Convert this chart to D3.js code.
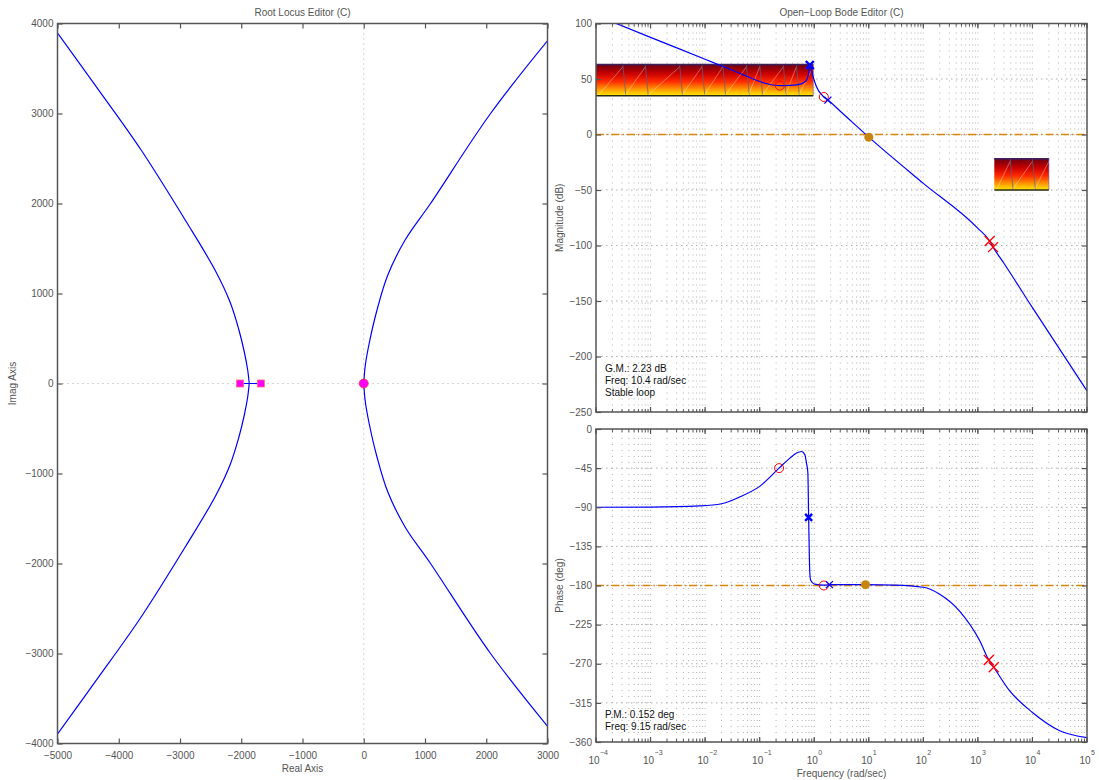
<!DOCTYPE html>
<html><head><meta charset="utf-8">
<script src="https://cdn.jsdelivr.net/npm/d3@7"></script>
<style>
body{margin:0;background:#fff;}
svg{display:block;font-family:"Liberation Sans",Arial,Helvetica,sans-serif;}
</style></head><body>
<svg id="c" width="1099" height="780"></svg>
<script>
// ---------------- DATA ----------------
const rlXTicks = [-5000,-4000,-3000,-2000,-1000,0,1000,2000,3000];
const rlYTicks = [-4000,-3000,-2000,-1000,0,1000,2000,3000,4000];
// upper halves of the two locus branches (lower half is the mirror image)
const rlLeftRe  = [-1870,-1895,-1950,-2040,-2180,-2420,-2900,-3640,-4380,-5100];
const rlLeftIm  = [0,150,350,600,900,1250,1800,2600,3310,3990];
const rlRightRe = [0,25,90,210,390,680,1090,2070,3050,3150];
const rlRightIm = [0,200,450,800,1200,1600,2000,3000,3850,3930];
const rlPoleRe = [-2020,-1680];
const rlOriginRe = [0];

const magTicks = [100,50,0,-50,-100,-150,-200,-250];
const phaseTicks = [0,-45,-90,-135,-180,-225,-270,-315,-360];
const freqExp = [-4,-3,-2,-1,0,1,2,3,4,5];

const magFreq = [1e-4,1e-3,1e-2,0.03,0.06,0.1,0.15,0.234,0.35,0.5,0.627,0.72,0.776,0.81,0.83,0.87,0.955,1.1,1.5,1.78,3,10,100,1000,1645,1900,3000,1e4,1e5];
const magDb   = [107.4,87.5,67.8,58.3,52.2,47.7,45.3,44.0,44.2,45,46.5,49,53,59,62.6,60,52,43,33.8,31,21,-2.4,-44,-84.5,-96,-101.5,-116,-156,-231];

const phFreq = [1e-4,1e-3,8e-3,0.02,0.0436,0.1,0.227,0.357,0.474,0.585,0.673,0.72,0.764,0.79,0.83,0.86,1.02,1.5,2,8.7,30,100,200,470,1070,1585,1950,3800,1e4,3.16e4,1e5];
const phDeg  = [-90,-89.8,-88.4,-86,-78,-66,-45,-33.5,-27.7,-25.9,-29.5,-39,-50,-101.6,-165,-174,-178.5,-179.5,-179,-179,-179.5,-182,-190,-210,-243,-265.6,-274,-301,-326,-347,-355];

// markers
const magCircF = [0.234,1.5],      magCircDb = [44,33.8];
const magXF    = [0.83,1.78],      magXDb    = [62.6,31];
const magRedXF = [1645,1900],      magRedXDb = [-96,-101.5];
const magDotF  = [10],             magDotDb  = [-2.4];
const phCircF  = [0.227,1.5],      phCircDeg = [-45,-180];
const phXF     = [0.79,1.9],       phXDeg    = [-101.6,-179];
const phRedXF  = [1585,1950],      phRedXDeg = [-265.6,-274];
const phDotF   = [8.7],            phDotDeg  = [-179];

// design constraint patches
const consF0 = [1e-4,2000], consF1 = [0.96,20000];
const consTop = [63.5,-21.5], consBot = [35,-50];
const consTeeth = [[1e-4,3.1e-4,8e-4,3.4e-3,8.7e-3,0.021,0.057,0.1,0.27,0.47,0.96],[2000,3900,10000,20000]];

const gmText = ["G.M.: 2.23 dB","Freq: 10.4 rad/sec","Stable loop"];
const pmText = ["P.M.: 0.152 deg","Freq: 9.15 rad/sec"];

// ---------------- DRAW ----------------
const svg = d3.select("#c");
const AX = "#555", LBL = "#555";
const defs = svg.append("defs");

function clip(id,x0,y0,x1,y1){
  defs.append("clipPath").attr("id",id).append("rect").attr("x",x0).attr("y",y0).attr("width",x1-x0).attr("height",y1-y0);
}
function xMark(g,x,y,s,col,w){
  g.append("path").attr("d",`M${x-s},${y-s}L${x+s},${y+s}M${x-s},${y+s}L${x+s},${y-s}`).attr("stroke",col).attr("stroke-width",w).attr("fill","none");
}

// ===== Root locus =====
const rl = {x0:57.5,x1:547.5,y0:23.5,y1:743.5};
const rx = d3.scaleLinear().domain([-5000,3000]).range([rl.x0,rl.x1]);
const ry = d3.scaleLinear().domain([-4000,4000]).range([rl.y1,rl.y0]);
clip("clipRL",rl.x0,rl.y0,rl.x1,rl.y1);
const gRL = svg.append("g");
const gz = gRL.append("g").attr("clip-path","url(#clipRL)");
gz.append("line").attr("x1",rx(0)).attr("x2",rx(0)).attr("y1",rl.y0).attr("y2",rl.y1).attr("stroke","#aaa").attr("stroke-dasharray","1,4");
gz.append("line").attr("x1",rl.x0).attr("x2",rl.x1).attr("y1",ry(0)).attr("y2",ry(0)).attr("stroke","#aaa").attr("stroke-dasharray","1,4");
const rlLine = d3.line().x(d=>rx(d[0])).y(d=>ry(d[1])).curve(d3.curveCatmullRom);
[[rlLeftRe,rlLeftIm],[rlRightRe,rlRightIm]].forEach(([re,im])=>{
  const up = re.map((r,i)=>[r,im[i]]);
  const dn = re.map((r,i)=>[r,-im[i]]);
  gz.append("path").attr("d",rlLine(up)).attr("fill","none").attr("stroke","#0000ff").attr("stroke-width",1.2);
  gz.append("path").attr("d",rlLine(dn)).attr("fill","none").attr("stroke","#0000ff").attr("stroke-width",1.2);
});
gz.append("line").attr("x1",rx(rlPoleRe[0])).attr("x2",rx(rlPoleRe[1])).attr("y1",ry(0)).attr("y2",ry(0)).attr("stroke","#0000ff").attr("stroke-width",1.2);
rlPoleRe.forEach(p=>{
  gz.append("rect").attr("x",rx(p)-3.5).attr("y",ry(0)-3.5).attr("width",7).attr("height",7).attr("fill","#ff00ff").attr("stroke","#ff7070").attr("stroke-width",0.8);
});
rlOriginRe.forEach(p=>{
  gz.append("circle").attr("cx",rx(p)).attr("cy",ry(0)).attr("r",4.5).attr("fill","#ff00ff").attr("stroke","#ff3030").attr("stroke-width",0.8);
});
function styleAxis(g){
  g.selectAll("path.domain").remove();
  g.selectAll("line").attr("stroke",AX).attr("stroke-width",1.2);
  g.selectAll("text").attr("fill",LBL).style("font-size","10px").style("font-family","'Liberation Sans',Arial,sans-serif");
}
const fmt = d3.format("d");
styleAxis(gRL.append("g").attr("transform",`translate(0,${rl.y1})`).call(d3.axisBottom(rx).tickValues(rlXTicks).tickFormat(fmt).tickSize(-5).tickPadding(8)));
styleAxis(gRL.append("g").attr("transform",`translate(0,${rl.y0})`).call(d3.axisTop(rx).tickValues(rlXTicks).tickFormat("").tickSize(-5)));
styleAxis(gRL.append("g").attr("transform",`translate(${rl.x0},0)`).call(d3.axisLeft(ry).tickValues(rlYTicks).tickFormat(fmt).tickSize(-5).tickPadding(4)));
styleAxis(gRL.append("g").attr("transform",`translate(${rl.x1},0)`).call(d3.axisRight(ry).tickValues(rlYTicks).tickFormat("").tickSize(-5)));
gRL.append("rect").attr("x",rl.x0).attr("y",rl.y0).attr("width",rl.x1-rl.x0).attr("height",rl.y1-rl.y0).attr("fill","none").attr("stroke",AX).attr("stroke-width",1.5);
svg.append("text").attr("x",(rl.x0+rl.x1)/2).attr("y",16).attr("text-anchor","middle").attr("fill",LBL).style("font-size","10px").text("Root Locus Editor (C)");
svg.append("text").attr("x",(rl.x0+rl.x1)/2).attr("y",772).attr("text-anchor","middle").attr("fill",LBL).style("font-size","10px").text("Real Axis");
svg.append("text").attr("transform",`translate(16,${(rl.y0+rl.y1)/2}) rotate(-90)`).attr("text-anchor","middle").attr("fill",LBL).style("font-size","10px").text("Imag Axis");

// ===== Bode =====
const bx0 = 596, bx1 = 1087;
const mg = {y0:23.5,y1:412}, ph = {y0:429,y1:742};
const fx = d3.scaleLog().domain([1e-4,1e5]).range([bx0,bx1]);
const my = d3.scaleLinear().domain([-250,100]).range([mg.y1,mg.y0]);
const py = d3.scaleLinear().domain([-360,0]).range([ph.y1,ph.y0]);
clip("clipMag",bx0,mg.y0,bx1,mg.y1);
clip("clipPh",bx0,ph.y0,bx1,ph.y1);

const minorF = [];
freqExp.slice(0,-1).forEach(e=>{ for(let k=1;k<10;k++) minorF.push(k*Math.pow(10,e)); });
minorF.push(1e5);

const grad = defs.append("linearGradient").attr("id","hot").attr("x1",0).attr("y1",0).attr("x2",0).attr("y2",1);
[[0,"#3a1050"],[0.06,"#7a0010"],[0.3,"#c80000"],[0.55,"#ff2a00"],[0.78,"#ff9000"],[1,"#ffe800"]].forEach(([o,c])=>grad.append("stop").attr("offset",o).attr("stop-color",c));

function bodePanel(y0,y1,ys,ticks,clipId){
  const g = svg.append("g");
  const gc = g.append("g").attr("clip-path",`url(#${clipId})`);
  gc.selectAll(null).data(minorF).enter().append("line")
    .attr("x1",d=>fx(d)).attr("x2",d=>fx(d)).attr("y1",y0+3).attr("y2",y1)
    .attr("stroke","#b0b0b0").attr("stroke-width",1).attr("stroke-dasharray","1,5");
  gc.selectAll(null).data(ticks).enter().append("line")
    .attr("x1",bx0).attr("x2",bx1).attr("y1",d=>ys(d)).attr("y2",d=>ys(d))
    .attr("stroke","#b0b0b0").attr("stroke-width",1).attr("stroke-dasharray","1.5,3.5");
  return {g,gc};
}
function bodeAxes(g,y0,y1,ys,ticks){
  styleAxis(g.append("g").attr("transform",`translate(${bx0},0)`).call(d3.axisLeft(ys).tickValues(ticks).tickFormat(fmt).tickSize(-5).tickPadding(4)));
  styleAxis(g.append("g").attr("transform",`translate(${bx1},0)`).call(d3.axisRight(ys).tickValues(ticks).tickFormat("").tickSize(-5)));
  const maj = freqExp.map(e=>Math.pow(10,e));
  [[y1,-1],[y0,1]].forEach(([yy,s])=>{
    g.selectAll(null).data(minorF).enter().append("line")
      .attr("x1",d=>fx(d)).attr("x2",d=>fx(d)).attr("y1",yy).attr("y2",yy+s*3)
      .attr("stroke",AX).attr("stroke-width",1);
    g.selectAll(null).data(maj).enter().append("line")
      .attr("x1",d=>fx(d)).attr("x2",d=>fx(d)).attr("y1",yy).attr("y2",yy+s*5)
      .attr("stroke",AX).attr("stroke-width",1.2);
  });
  g.append("rect").attr("x",bx0).attr("y",y0).attr("width",bx1-bx0).attr("height",y1-y0).attr("fill","none").attr("stroke",AX).attr("stroke-width",1.5);
}

function drawPath(g,d){ g.append("path").attr("d",d).attr("fill","none").attr("stroke","#0000ff").attr("stroke-width",1.2); }

// ---- magnitude ----
const M = bodePanel(mg.y0,mg.y1,my,magTicks,"clipMag");
consF0.forEach((f0,i)=>{
  const xa=fx(f0), xb=fx(consF1[i]), yt=my(consTop[i]), yb=my(consBot[i]);
  M.gc.append("rect").attr("x",xa).attr("y",yt).attr("width",xb-xa).attr("height",yb-yt).attr("fill","url(#hot)");
  const t = consTeeth[i].map(fx);
  for(let k=0;k<t.length-1;k++){
    M.gc.append("line").attr("x1",t[k]+2).attr("y1",yb).attr("x2",t[k+1]).attr("y2",yt+3).attr("stroke","#fff").attr("stroke-opacity",0.45).attr("stroke-width",0.8);
    if(k<t.length-2) M.gc.append("line").attr("x1",t[k+1]).attr("y1",yt).attr("x2",t[k+1]+3).attr("y2",yb).attr("stroke","#606080").attr("stroke-opacity",0.75).attr("stroke-width",1);
  }
  M.gc.append("line").attr("x1",xa).attr("x2",xb).attr("y1",yt+0.5).attr("y2",yt+0.5).attr("stroke","#40205a").attr("stroke-width",1.5);
  M.gc.append("line").attr("x1",xa).attr("x2",xb).attr("y1",yb).attr("y2",yb).attr("stroke","#2a2a10").attr("stroke-width",1.5);
  M.gc.append("line").attr("x1",xb).attr("x2",xb).attr("y1",yt).attr("y2",yb).attr("stroke","#7050a0").attr("stroke-width",1).attr("stroke-opacity",0.6);
});
M.gc.append("line").attr("x1",bx0).attr("x2",bx1).attr("y1",my(0)).attr("y2",my(0)).attr("stroke","#d8890c").attr("stroke-width",1.3).attr("stroke-dasharray","8,3,1.5,3");
const magLine = d3.line().x(d=>fx(d[0])).y(d=>my(d[1])).curve(d3.curveMonotoneX);
drawPath(M.gc, magLine(magFreq.map((f,i)=>[f,magDb[i]])));
magCircF.forEach((f,i)=>M.gc.append("circle").attr("cx",fx(f)).attr("cy",my(magCircDb[i])).attr("r",4.5).attr("fill","none").attr("stroke","#ff0000").attr("stroke-width",1));
magXF.forEach((f,i)=>xMark(M.gc,fx(f),my(magXDb[i]),i===0?4:3.5,"#0000ff",i===0?2.4:1.3));
magRedXF.forEach((f,i)=>xMark(M.gc,fx(f),my(magRedXDb[i]),5,"#ff0000",1.3));
magDotF.forEach((f,i)=>M.gc.append("circle").attr("cx",fx(f)).attr("cy",my(magDotDb[i])).attr("r",4.5).attr("fill","#c98410"));
bodeAxes(M.g,mg.y0,mg.y1,my,magTicks);
gmText.forEach((t,i)=>svg.append("text").attr("x",605).attr("y",372+i*12).attr("fill","#111").style("font-size","10px").text(t));

// ---- phase ----
const P = bodePanel(ph.y0,ph.y1,py,phaseTicks,"clipPh");
P.gc.append("line").attr("x1",bx0).attr("x2",bx1).attr("y1",py(-180)).attr("y2",py(-180)).attr("stroke","#d8890c").attr("stroke-width",1.3).attr("stroke-dasharray","8,3,1.5,3");
const phLine = d3.line().x(d=>fx(d[0])).y(d=>py(d[1])).curve(d3.curveMonotoneX);
drawPath(P.gc, phLine(phFreq.map((f,i)=>[f,phDeg[i]])));
phCircF.forEach((f,i)=>P.gc.append("circle").attr("cx",fx(f)).attr("cy",py(phCircDeg[i])).attr("r",4.5).attr("fill","none").attr("stroke","#ff0000").attr("stroke-width",1));
phXF.forEach((f,i)=>xMark(P.gc,fx(f),py(phXDeg[i]),3.5,"#0000ff",i===0?2.4:1.3));
phRedXF.forEach((f,i)=>xMark(P.gc,fx(f),py(phRedXDeg[i]),5,"#ff0000",1.3));
phDotF.forEach((f,i)=>P.gc.append("circle").attr("cx",fx(f)).attr("cy",py(phDotDeg[i])).attr("r",4.5).attr("fill","#c98410"));
bodeAxes(P.g,ph.y0,ph.y1,py,phaseTicks);
pmText.forEach((t,i)=>svg.append("text").attr("x",605).attr("y",718+i*12).attr("fill","#111").style("font-size","10px").text(t));

// frequency tick labels 10^e
const gx = svg.append("g");
freqExp.forEach(e=>{
  const x = fx(Math.pow(10,e));
  gx.append("text").attr("x",x-2).attr("y",764).attr("text-anchor","middle").attr("fill",LBL).style("font-size","10px").text("10");
  gx.append("text").attr("x",x+4).attr("y",755).attr("fill",LBL).style("font-size","7px").text(d3.format("d")(e));
});
svg.append("text").attr("x",(bx0+bx1)/2).attr("y",777).attr("text-anchor","middle").attr("fill",LBL).style("font-size","10px").text("Frequency (rad/sec)");
svg.append("text").attr("x",(bx0+bx1)/2).attr("y",16).attr("text-anchor","middle").attr("fill",LBL).style("font-size","10px").text("Open\u2212Loop Bode Editor (C)");
svg.append("text").attr("transform",`translate(563,${(mg.y0+mg.y1)/2}) rotate(-90)`).attr("text-anchor","middle").attr("fill",LBL).style("font-size","10px").text("Magnitude (dB)");
svg.append("text").attr("transform",`translate(563,${(ph.y0+ph.y1)/2}) rotate(-90)`).attr("text-anchor","middle").attr("fill",LBL).style("font-size","10px").text("Phase (deg)");
</script>
</body></html>
